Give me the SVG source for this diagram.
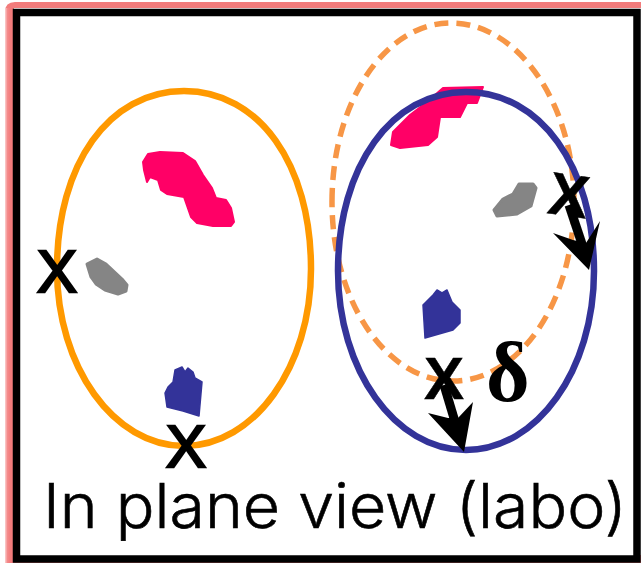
<svg xmlns="http://www.w3.org/2000/svg" width="641" height="563" viewBox="0 0 641 563">
  <defs>
    <linearGradient id="edge" x1="0" x2="1" y1="0" y2="0">
      <stop offset="0" stop-color="#fbd0d0"/>
      <stop offset="0.5" stop-color="#f48a8a"/>
      <stop offset="1" stop-color="#f27c7c"/>
    </linearGradient>
  </defs>
  <style>
    .ring { fill: none; stroke-width: 6.500; }
    .pink { fill: #ff0066; stroke: #ff0066; stroke-width: 2; stroke-linejoin: round; }
    .gray { fill: #858585; stroke: #858585; stroke-width: 3; stroke-linejoin: round; }
    .blue { fill: #333399; stroke: #333399; stroke-width: 1.500; stroke-linejoin: round; }
    .mark { font-family: "Liberation Sans", Arial, sans-serif; font-size: 60px; fill: #000; stroke: #000; stroke-width: 2.500px; text-anchor: middle; }
    .mark-bold { font-family: "Liberation Sans", Arial, sans-serif; font-size: 60px; font-weight: 700; fill: #000; stroke: #000; stroke-width: 0.500px; text-anchor: middle; }
    .shaft { stroke: #000; stroke-width: 9; fill: none; }
    .head { fill: #000; stroke: none; }
  </style>

  <!-- Frame -->
  <g id="frame">
    <path d="M5 563V12Q5 2 15 2H641V8H14V555H641V563Z" fill="#f27c7c"/>
    <rect x="5" y="8" width="5" height="555" fill="url(#edge)"/>
    <rect x="16.500" y="12.500" width="620.500" height="546.500" fill="#fff" stroke="#000" stroke-width="7.500"/>
  </g>

  <!-- Left view -->
  <g id="view-left">
    <path id="ring-orange" class="ring" stroke="#ff9900" d="M57 269C57 164 109 91 184 91C259 91 311 164 311 269C311 367 254 446 184 446C114 446 57 367 57 269Z"/>
    <path id="patch-pink-left" class="pink" d="M143 162L148 154 160 152 183 153 195 161 203 175 212 188 216 198 226 200 231 208 234 222 231 226 213 226 197 223 191 217 184 197 167 194 161 190 158 180 150 177 147 182 144 170Z"/>
    <path id="patch-gray-left" class="gray" d="M87 264L97 259 106 264 122 279 127 285 126 291 118 294 105 290 96 284 91 277Z"/>
    <path id="patch-blue-left" class="blue" d="M165 393L168 387 173 382 175 370 182 367 185 372 188 368 193 372 195 378 202 382 199 416 183 411 167 407Z"/>
    <text id="mark-left" class="mark" x="57" y="292">X</text>
    <text id="mark-bottom" class="mark" x="186" y="467">X</text>
  </g>

  <!-- Right view -->
  <g id="view-right">
    <path id="ring-dashed" fill="none" stroke="#f79646" stroke-width="5.500" stroke-dasharray="14 8" d="M332 202C332 102 385 23 451 23C517 23 574 102 574 202C574 301 520 381 453 381C386 381 332 301 332 202Z"/>
    <path id="patch-pink-right" class="pink" d="M391 145L393 132 410 115 427 102 443 88 483 87 477 103 467 103 460 117 440 117 437 137 428 145 400 148Z"/>
    <path id="ring-blue" class="ring" stroke="#333399" d="M338 271C338 166 392 92 466 92C540 92 594 166 594 271C594 370 537 450 466 450C395 450 338 370 338 271Z"/>
    <path id="patch-gray-right" class="gray" d="M494 210L503 199 513 194 519 184 533 184 536 188 531 206 517 214 497 216Z"/>
    <path id="patch-blue-right" class="blue" d="M423 305L433 295 437 290 442 293 447 290 452 302 460 310 460 323 453 330 425 338Z"/>
    <text id="mark-right" class="mark-bold" x="569" y="216" transform="rotate(8 569 195)">X</text>
    <text id="mark-lower" class="mark-bold" x="444" y="399">X</text>
    <text id="delta" x="486" y="401" font-family="'Liberation Serif','Times New Roman',serif" font-weight="700" font-size="84" fill="#000">δ</text>
  </g>

  <!-- Displacement arrows -->
  <g id="connectors">
    <path class="shaft" d="M569 205L584 250"/>
    <path class="head" d="M553 233L573 240 586 243 600 221 589 270Z"/>
    <path class="shaft" d="M444 385L456 425"/>
    <path class="head" d="M428 413L448 418 458 418 473 402 464 452Z"/>
  </g>

  <text id="caption" x="43" y="528" font-family="Inter, Lato, 'Liberation Sans', sans-serif" font-weight="300" font-size="62" fill="#000" stroke="#000" stroke-width="0.600" textLength="584" lengthAdjust="spacingAndGlyphs">In plane view (labo)</text>
</svg>
